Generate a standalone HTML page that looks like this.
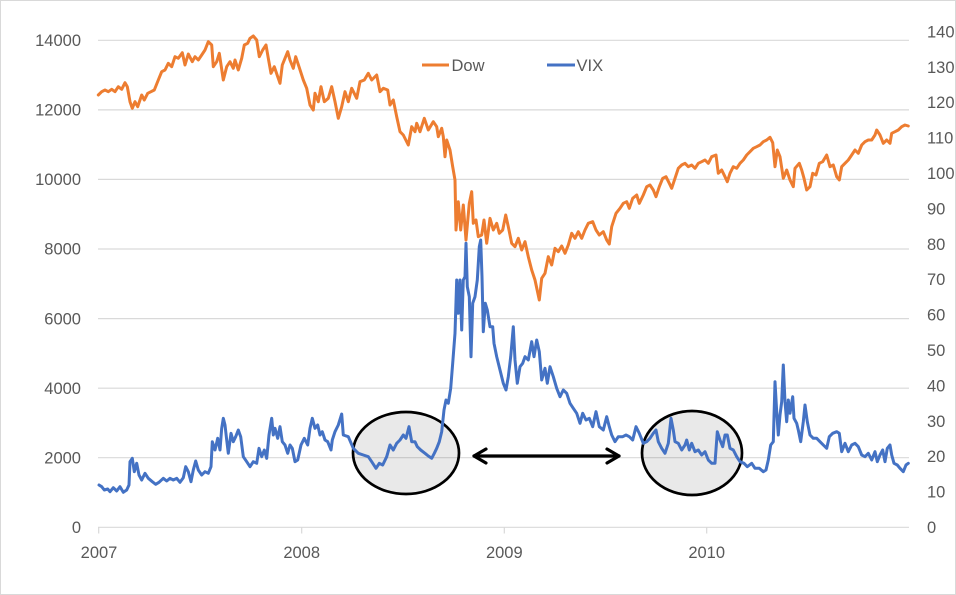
<!DOCTYPE html>
<html>
<head>
<meta charset="utf-8">
<style>
html,body{margin:0;padding:0;background:#fff;}
svg{display:block;}
text{font-family:"Liberation Sans",Arial,sans-serif;font-size:16.5px;fill:#595959;}
</style>
</head>
<body>
<svg width="956" height="595" viewBox="0 0 956 595" xmlns="http://www.w3.org/2000/svg">
<rect x="0.5" y="0.5" width="955" height="594" fill="#fff" stroke="#d9d9d9" stroke-width="1"/>
<!-- gridlines -->
<g stroke="#d9d9d9" stroke-width="1.2">
<line x1="98" y1="40.3" x2="909" y2="40.3"/>
<line x1="98" y1="109.9" x2="909" y2="109.9"/>
<line x1="98" y1="179.4" x2="909" y2="179.4"/>
<line x1="98" y1="249.0" x2="909" y2="249.0"/>
<line x1="98" y1="318.6" x2="909" y2="318.6"/>
<line x1="98" y1="388.2" x2="909" y2="388.2"/>
<line x1="98" y1="457.7" x2="909" y2="457.7"/>
<line x1="98" y1="527.3" x2="909" y2="527.3"/>
<line x1="98.7" y1="527.3" x2="98.7" y2="533.5"/>
<line x1="301.7" y1="527.3" x2="301.7" y2="533.5"/>
<line x1="504.3" y1="527.3" x2="504.3" y2="533.5"/>
<line x1="706.7" y1="527.3" x2="706.7" y2="533.5"/>
</g>
<!-- left axis labels -->
<g text-anchor="end">
<text x="81" y="46">14000</text>
<text x="81" y="115.6">12000</text>
<text x="81" y="185.1">10000</text>
<text x="81" y="254.7">8000</text>
<text x="81" y="324.3">6000</text>
<text x="81" y="393.9">4000</text>
<text x="81" y="463.4">2000</text>
<text x="81" y="533">0</text>
</g>
<!-- right axis labels -->
<g text-anchor="start">
<text x="927" y="37.4">140</text>
<text x="927" y="72.8">130</text>
<text x="927" y="108.2">120</text>
<text x="927" y="143.6">110</text>
<text x="927" y="179">100</text>
<text x="927" y="214.4">90</text>
<text x="927" y="249.8">80</text>
<text x="927" y="285.2">70</text>
<text x="927" y="320.6">60</text>
<text x="927" y="356">50</text>
<text x="927" y="391.4">40</text>
<text x="927" y="426.8">30</text>
<text x="927" y="462.2">20</text>
<text x="927" y="497.6">10</text>
<text x="927" y="533">0</text>
</g>
<!-- x labels -->
<g text-anchor="middle">
<text x="99" y="558">2007</text>
<text x="301.7" y="558">2008</text>
<text x="504.3" y="558">2009</text>
<text x="706.7" y="558">2010</text>
</g>
<!-- ellipses -->
<ellipse cx="406" cy="453" rx="53" ry="41" fill="#000" fill-opacity="0.085" stroke="#000" stroke-width="2.7"/>
<ellipse cx="692" cy="453" rx="50" ry="42" fill="#000" fill-opacity="0.085" stroke="#000" stroke-width="2.7"/>
<!-- Dow -->
<polyline fill="none" stroke="#ED7D31" stroke-width="3" stroke-linejoin="round" stroke-linecap="round" points="
98.3,95 101.7,91.7 105,90 108.3,91.7 111.7,89.3 115,91.7 118.3,86.7 121.7,89.3 125,82.7 127.3,86.7 130,101.7 132.3,108.3 135,101.7 137.7,106.7 141.7,95 144.3,100 147.7,93.3 151,91.7 154.3,90 158.3,80 161.7,71.7 165,70 168.3,63.3 171.7,66.7 175,56.7 178.3,58.3 182.3,52.7 185,65 188.3,54 192.3,61.7 195,56.7 198.3,60 201.7,55 205,50 208.3,41.7 211.7,45 213.3,66.7 216.7,61.7 219.3,53.3 223.3,80 226.7,66.7 230,61.7 233.3,68.3 235,60 238.3,70 241.7,58.3 244.3,45 247.7,43.3 250,38.3 253.3,36 256.7,40 259.3,56.7 262.7,50 266,45 268.3,58.3 271,73.3 274.3,66.7 277.7,76.7 280,83.3 282.3,65 285,58.3 287.7,51.7 290,60 293.3,68.3 295.7,56.7 299,66.7 303.3,80 306.7,88.3 310,105 313.3,110 315,93.3 318.3,101.7 321,86.7 324.3,101.7 328.3,98.3 331.7,86.7 335,101.7 338.3,118.3 341.7,106.7 345,91.7 348.3,101.7 351.7,88.3 356.7,98.3 360,81.7 364.3,80 368.3,73.3 371.7,80 376.7,75 380,91.7 383.3,88.3 387.7,90 390,105 393.3,100 396.7,116.7 400,131.7 403.3,135 408.3,145 411.7,126.7 415,131.7 416.7,123.3 420,131.7 424.3,118.3 428.3,130 433.3,121.7 436.7,126.7 438.3,136.7 441.7,128.3 443.3,136.7 445,156.7 446.7,140 450,150 452.7,166.7 455,180 456,230 458.3,201.7 460.7,230 463.3,205 466,240 469.3,203.3 471.7,191.7 473.3,223.3 476,220 478.3,236.7 481.7,235 484,220 486.7,243.3 490,218.3 493.3,230 496.7,223.3 499.3,233.3 502.7,230 505.7,215 508.3,226.7 511.7,243.3 515,246.7 518.3,238.3 521.7,250 525,241.7 528.3,256.7 531.7,270 535,280 539.3,300 541.7,278.3 545,273.3 548.3,256.7 551.7,265 555,248.3 558.3,251.7 561.7,246 565,253.3 568.3,245 571.7,233.3 575,238.3 578.3,231.7 581.7,238.3 585,230 588.3,223.3 592.7,221.7 596,230 599.3,235 603.3,231.7 606.7,240 609.3,244 611.7,226.7 616,213.3 620,208.3 623.3,203.3 626.7,201.7 629.3,208.3 632.7,198.3 636.7,195 639.3,203.3 643.3,195 646.7,186.7 650,185 653.3,190 656,196.7 659.3,186.7 662.7,178.3 666,176.7 669.3,183.3 671.7,188.3 675,178.3 678.3,168.3 681.7,165 685,163.3 688.3,166.7 691.7,165 695,168.3 698.3,163.3 701.7,161.7 705,160 708.3,163.3 711.7,156.7 716,155 718.3,173.3 721.7,170 725,176.7 727.3,181.7 730,173.3 733.3,166.7 736.7,168.3 740,163.3 743.3,160 746.7,155 750,151.7 753.3,148.3 756.7,146.7 760,145 763.3,141.7 766.7,140 770,137.3 772.7,142.7 775,166.7 777.3,150 780,156.7 783.3,178.3 786.7,170 790,180 793.3,186.7 795,168.3 799.3,163.3 801.7,170 804,178.3 806.7,190 810,186.7 812.7,173.3 816,175 819.3,163.3 822.7,161.7 826.7,155 830,166.7 833.3,165 836.7,176.7 839.3,180 841.7,166.7 845,163.3 848.3,160 851.7,155 855,150 858.3,153.3 861.7,145 865,141.7 868.3,140 871.7,140 875,135 876.7,130 880,135 883.3,143.3 886.7,140 890,143.3 891.7,133.3 895,131.7 898.3,130 901.7,126.7 905,125 908.3,126"/>
<!-- VIX -->
<polyline fill="none" stroke="#4472C4" stroke-width="3" stroke-linejoin="round" stroke-linecap="round" points="
99,485 101.7,486.7 104.3,490 107.7,489 110,491.7 113.3,487.7 116.7,491 120,486.7 123.3,492.3 126.7,490 129,485 130,461.7 132.3,458.3 134.3,471.7 136.7,463.3 139,475 141.7,480 145,473.3 148.3,478.3 152.3,481.7 155.7,484.3 159,482.3 163.3,478.3 166.7,481 170,478.3 173.3,480 176.7,478.3 180,482.3 183.3,477.7 185.7,466.7 188.3,471.7 191,481.7 193.3,470 195.7,461 198.3,470 201.7,475 205,471.7 208.3,473.3 211,466.7 212.3,441.7 215,450 217.7,438.3 220,450 221.7,428.3 223.3,418.3 225,425 226.7,440 228.3,453.3 231,433.3 233.3,441.7 235.7,436.7 238.3,430 240.7,436.7 243.3,456.7 246.7,461.7 250,466.7 253.3,461.7 256.7,463.3 259,448.3 261.7,456.7 264.3,450 266.7,458.3 269,435 271.7,418.3 273.3,435 275,428.3 277.7,438.3 280,426.7 282.3,441.7 285,445 287.7,453.3 290,445 292.3,448.3 295,461.7 297.7,460 301,445 304.3,438.3 307.7,445 310,428.3 312.3,418.3 315,428.3 317.7,425 320,435 322.3,431.7 325,440 327.7,441.7 331,450 332.3,440 335,431.7 338.3,425 341.7,414 343.3,435 348.3,436.7 353.3,448.3 358.3,453.3 363.3,455 368.3,456.7 371.7,461.7 376,468.3 379.3,463.3 382.7,465 386.7,456.7 390,445 393.3,450 396.7,443.3 400,440 403.3,435 406,438.3 409,426.7 411.7,441.7 415,441.7 417.3,446.7 420.7,450 425,453.3 428.3,456 431.7,458.3 434.3,453.3 436.7,448.3 439.3,441.7 441.7,431.7 444,410 446,400 448.3,403.3 450.7,388.3 452.7,363.3 455,333.3 456.7,280 458.3,313.3 460,280 461.7,330 463.3,280 465,276.7 466,243.3 467.3,286.7 469.3,296.7 471,356.7 472.7,303.3 475,296.7 477.3,280 479.3,246.7 480.7,240 482,276.7 483.3,331.7 485.3,303.3 487.3,310 490,326.7 492.7,326.7 494,343.3 496.7,356.7 500,370 503.3,383.3 506,390 508.3,376.7 510.7,356.7 513.3,326.7 515,360 517.3,383.3 520,366.7 522.7,363.3 525,356.7 528.3,360 531.7,341.7 534,356.7 536.7,340 539.3,351.7 541.7,380 545,368.3 547.3,383.3 550,366.7 553.3,376.7 556.7,388.3 560,396.7 563.3,390 566.7,393.3 570,403.3 573.3,408.3 576.7,413.3 580,423.3 582.7,413.3 586,420 589.3,418.3 592.7,426.7 596,411.7 599.3,426.7 603.3,430 606.7,416.7 609.3,426.7 611.7,435 615,441.7 618.3,436.7 622.7,436.7 626,435 629.3,436.7 632.7,440 636,426.7 639.3,433.3 643.3,443.3 646.7,441.7 650,438.3 653.3,433.3 656,430 658.3,441.7 661.7,448.3 665,453.3 668.3,443.3 671,418.3 673.3,430 675,441.7 678.3,443.3 681.7,450 685,445 686.7,440 689.3,450 691.7,443.3 695,451.7 698.3,450 701.7,455 705,451.7 708.3,460 711.7,463.3 715,463.3 717.3,431.7 720,440 722.7,446.7 725,435 727.3,435 730,448.3 733.3,450 736.7,456.7 740,461.7 744,463.3 747.3,466.7 751.7,463.3 755,468.3 759.3,468.3 763.3,471.7 766,470 768.3,460 770.7,445 773.3,441.7 775,381.7 776.7,411.7 778.3,435 780,415 781.7,401.7 783.3,365 785,401.7 786.7,421.7 788.3,400 790,413.3 792.7,396.7 794,418.3 796.7,423.3 798.3,430 800.7,441.7 803.3,421.7 805,405 807.3,421.7 810,435 813.3,438.3 816.7,438.3 820,441.7 823.3,445 826.7,448.3 829.3,436.7 832.7,433.3 836.7,431.7 839.3,433.3 841.7,451.7 845,443.3 848.3,451.7 851.7,445 855,443.3 858.3,446.7 861.7,455 865,456.7 868.3,453.3 871.7,460 875,451.7 877.3,461.7 880,455 882.7,450 885,461.7 887.3,448.3 890,445 891.7,455 894,463.3 897.3,465 900,468.3 903.3,471.7 906,465 908.3,463.3"/>
<!-- arrow -->
<g stroke="#000" stroke-width="3.2" fill="none" stroke-linecap="round" stroke-linejoin="round">
<line x1="474" y1="456" x2="619" y2="456"/>
<polyline points="486,449 474,456 486,463"/>
<polyline points="607,449 619,456 607,463"/>
</g>
<!-- legend -->
<line x1="422" y1="65" x2="449" y2="65" stroke="#ED7D31" stroke-width="3"/>
<text x="451.5" y="71">Dow</text>
<line x1="547" y1="65" x2="575" y2="65" stroke="#4472C4" stroke-width="3"/>
<text x="576.5" y="71">VIX</text>
</svg>
</body>
</html>
